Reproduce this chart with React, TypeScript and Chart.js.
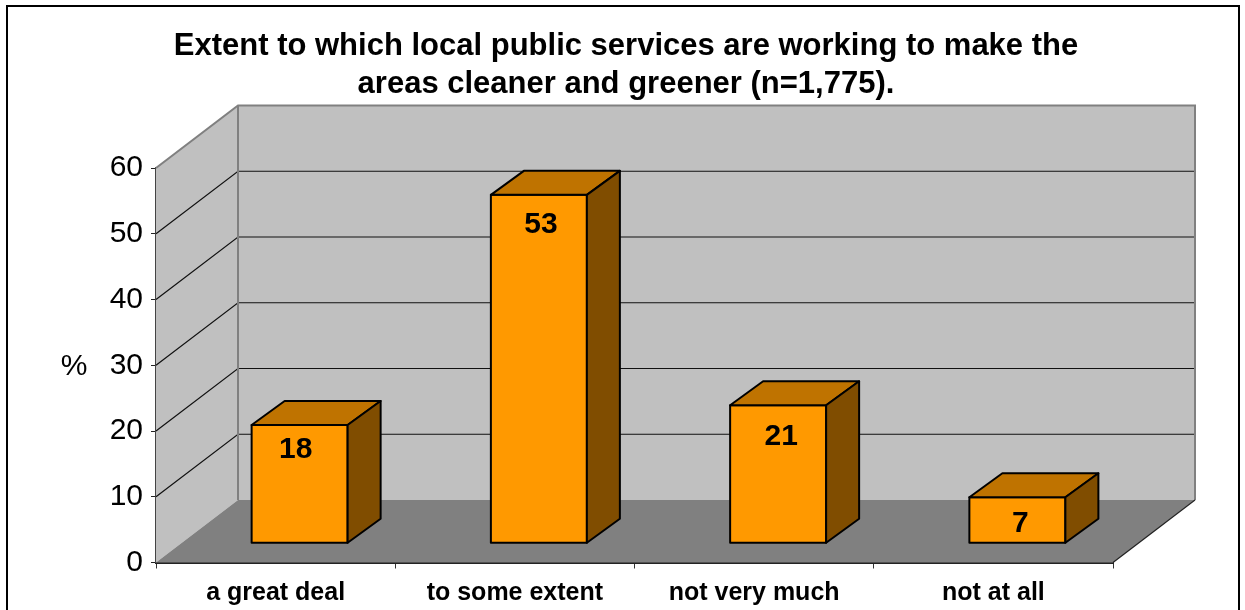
import React, { useEffect, useRef } from "react";
import { Chart, registerables } from "chart.js";

Chart.register(...registerables);

const titleLines = [
  "Extent to which local public services are working to make the",
  "areas cleaner and greener (n=1,775).",
];
const categories = ["a great deal", "to some extent", "not very much", "not at all"];
const percentages = [18, 53, 21, 7];
const yAxisTicks = [0, 10, 20, 30, 40, 50, 60];
const yAxisLabel = "%";
const labelNudgeX = [-4, 2, 3, 3];
const labelNudgeY = [25, 30, 32, 26];

const FONT = '"Liberation Sans", Arial, sans-serif';
const WALL = { dx: 82, dy: -62.5 };
const BAR_FRONT = { dx: 24, dy: -19.2 };
const BAR_DEPTH = { dx: 33, dy: -24 };

const poly = (ctx: CanvasRenderingContext2D, pts: number[][], fill: string | null, stroke: string | null, lw = 1) => {
  ctx.beginPath();
  pts.forEach((p, i) => (i ? ctx.lineTo(p[0], p[1]) : ctx.moveTo(p[0], p[1])));
  ctx.closePath();
  if (fill) {
    ctx.fillStyle = fill;
    ctx.fill();
  }
  if (stroke) {
    ctx.strokeStyle = stroke;
    ctx.lineWidth = lw;
    ctx.stroke();
  }
};

const framePlugin = {
  id: "frame",
  afterLayout(chart: any) {
    // centre the two-line title where the reference has it
    chart.titleBlock.left = 139;
  },
  beforeDraw(chart: any) {
    const { ctx, width, height } = chart;
    ctx.save();
    ctx.fillStyle = "#fff";
    ctx.fillRect(0, 0, width, height);
    ctx.strokeStyle = "#000";
    ctx.lineWidth = 2;
    ctx.strokeRect(7, 6, 1232, height + 20);
    ctx.restore();
  },
};

const wallsPlugin = {
  id: "walls",
  beforeDatasetsDraw(chart: any) {
    const { ctx, chartArea: a, scales } = chart;
    const y = scales.y;
    const { dx, dy } = WALL;
    ctx.save();
    poly(ctx, [[a.left, a.top], [a.left + dx, a.top + dy], [a.left + dx, a.bottom + dy], [a.left, a.bottom]], "#C0C0C0", null);
    poly(ctx, [[a.left + dx, a.top + dy], [a.right + dx, a.top + dy], [a.right + dx, a.bottom + dy], [a.left + dx, a.bottom + dy]], "#C0C0C0", null);
    poly(ctx, [[a.left, a.bottom], [a.left + dx, a.bottom + dy], [a.right + dx, a.bottom + dy], [a.right, a.bottom]], "#808080", null);
    ctx.strokeStyle = "#111";
    ctx.lineWidth = 1.2;
    yAxisTicks.forEach((t) => {
      if (t === 0 || t === yAxisTicks[yAxisTicks.length - 1]) return;
      const py = y.getPixelForValue(t);
      ctx.beginPath();
      ctx.moveTo(a.left, py);
      ctx.lineTo(a.left + dx, py + dy);
      ctx.lineTo(a.right + dx, py + dy);
      ctx.stroke();
    });
    ctx.strokeStyle = "#808080";
    ctx.lineWidth = 2;
    ctx.beginPath();
    ctx.moveTo(a.left, a.top);
    ctx.lineTo(a.left + dx, a.top + dy);
    ctx.lineTo(a.right + dx, a.top + dy);
    ctx.lineTo(a.right + dx, a.bottom + dy);
    ctx.moveTo(a.left + dx, a.top + dy);
    ctx.lineTo(a.left + dx, a.bottom + dy);
    ctx.stroke();
    ctx.strokeStyle = "#222";
    ctx.lineWidth = 1.2;
    ctx.beginPath();
    ctx.moveTo(a.right, a.bottom);
    ctx.lineTo(a.right + dx, a.bottom + dy);
    ctx.stroke();
    ctx.restore();
  },
  beforeDatasetDraw(chart: any) {
    chart.ctx.save();
    chart.ctx.translate(BAR_FRONT.dx, BAR_FRONT.dy);
  },
  afterDatasetDraw(chart: any) {
    const { ctx } = chart;
    ctx.restore();
    const meta = chart.getDatasetMeta(0);
    const { dx, dy } = BAR_DEPTH;
    ctx.save();
    ctx.lineJoin = "round";
    meta.data.forEach((bar: any, i: number) => {
      const half = bar.width / 2;
      const l = bar.x - half + BAR_FRONT.dx;
      const r = bar.x + half + BAR_FRONT.dx;
      const t = bar.y + BAR_FRONT.dy;
      const b = bar.base + BAR_FRONT.dy;
      poly(ctx, [[l, t], [r, t], [r, b], [l, b]], null, "#000", 2);
      poly(ctx, [[l, t], [l + dx, t + dy], [r + dx, t + dy], [r, t]], "#BF7300", "#000", 2);
      poly(ctx, [[r, t], [r + dx, t + dy], [r + dx, b + dy], [r, b]], "#804D00", "#000", 2);
      ctx.fillStyle = "#000";
      ctx.font = `bold 30px ${FONT}`;
      ctx.textAlign = "center";
      ctx.textBaseline = "middle";
      ctx.fillText(String(percentages[i]), bar.x + BAR_FRONT.dx + labelNudgeX[i], t + labelNudgeY[i]);
    });
    ctx.font = `30px ${FONT}`;
    ctx.fillStyle = "#000";
    ctx.textAlign = "center";
    ctx.textBaseline = "middle";
    ctx.fillText(yAxisLabel, 74, chart.scales.y.getPixelForValue(30) + 1);
    ctx.restore();
  },
};

export default function App() {
  const ref = useRef<HTMLCanvasElement | null>(null);
  useEffect(() => {
    if (!ref.current) return;
    const chart = new Chart(ref.current, {
      type: "bar",
      data: {
        labels: categories,
        datasets: [
          {
            data: percentages,
            backgroundColor: "#FF9900",
            borderWidth: 0,
            barThickness: 96,
          },
        ],
      },
      plugins: [framePlugin, wallsPlugin],
      options: {
        responsive: false,
        animation: false,
        layout: { padding: { left: 86, right: 132, top: 0, bottom: 0 } },
        plugins: {
          legend: { display: false },
          tooltip: { enabled: false },
          title: {
            display: true,
            text: titleLines,
            color: "#000",
            font: { family: FONT, size: 31, weight: "bold", lineHeight: 1.226 },
            padding: { top: 27, bottom: 65 },
          },
        },
        scales: {
          x: {
            grid: { drawOnChartArea: false, drawTicks: true, tickLength: 6, color: "#333" },
            border: { color: "#222", width: 2 },
            ticks: {
              color: "#000",
              font: { family: FONT, size: 25, weight: "bold" },
              padding: 10,
              maxRotation: 0,
              autoSkip: false,
            },
            afterFit: (s: any) => {
              s.height = 47.5;
            },
          },
          y: {
            min: yAxisTicks[0],
            max: yAxisTicks[yAxisTicks.length - 1],
            grid: { drawOnChartArea: false, drawTicks: true, tickLength: 5, color: "#222" },
            border: { color: "#444", width: 1.5 },
            ticks: {
              stepSize: 10,
              color: "#000",
              font: { family: FONT, size: 30 },
              padding: 8,
            },
            afterFit: (s: any) => {
              s.width = 70;
            },
          },
        },
      },
    } as any);
    return () => chart.destroy();
  }, []);
  return (
    <div style={{ position: "absolute", left: 0, top: 0, width: 1245, height: 610 }}>
      <canvas ref={ref} width={1245} height={610} style={{ display: "block" }} />
    </div>
  );
}
